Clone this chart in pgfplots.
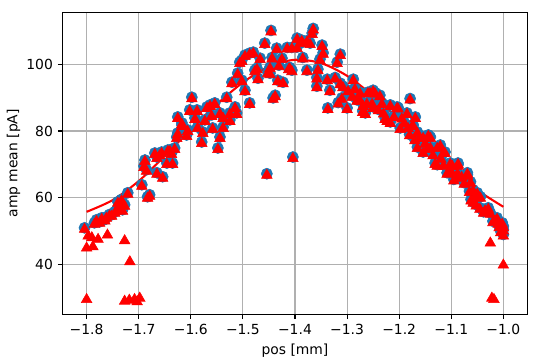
\documentclass[border=0pt]{standalone}
\usepackage{fontspec}
\setmainfont{DejaVu Sans}
\usepackage{pgfplots}
\pgfplotsset{compat=1.18}
\definecolor{tabblue}{HTML}{1F77B4}
\definecolor{gridgray}{HTML}{B0B0B0}
\pgfplotstableread{
x y
-1.804 51.0
-1.785 52.5
-1.781 53.4
-1.775 52.8
-1.771 54.0
-1.765 53.5
-1.762 54.3
-1.756 55.0
-1.752 54.9
-1.746 55.8
-1.742 56.5
-1.740 58.8
-1.737 57.0
-1.733 59.5
-1.731 56.4
-1.727 57.9
-1.721 61.5
-1.694 63.9
-1.690 69.5
-1.688 71.3
-1.685 68.4
-1.683 60.3
-1.679 60.9
-1.669 73.4
-1.665 67.5
-1.665 72.2
-1.660 73.0
-1.656 73.7
-1.654 66.3
-1.646 70.4
-1.644 74.3
-1.640 74.3
-1.637 73.4
-1.635 70.4
-1.631 74.9
-1.627 78.2
-1.625 79.4
-1.625 84.2
-1.617 82.4
-1.617 81.8
-1.608 78.8
-1.606 80.3
-1.602 86.3
-1.598 90.1
-1.592 83.9
-1.588 86.3
-1.587 81.2
-1.579 76.7
-1.577 79.7
-1.573 83.3
-1.569 87.2
-1.563 87.8
-1.560 84.8
-1.558 80.9
-1.554 88.4
-1.548 74.9
-1.544 78.2
-1.544 85.4
-1.538 81.2
-1.538 84.2
-1.531 90.1
-1.525 85.4
-1.525 83.3
-1.521 94.6
-1.515 87.2
-1.512 85.4
-1.510 97.3
-1.506 100.6
-1.502 95.2
-1.502 101.2
-1.496 102.7
-1.496 92.2
-1.487 88.4
-1.487 103.3
-1.480 103.6
-1.477 98.2
-1.473 98.8
-1.471 95.8
-1.467 101.8
-1.458 106.3
-1.454 67.2
-1.452 97.6
-1.448 97.3
-1.448 99.1
-1.446 110.1
-1.444 102.0
-1.442 89.9
-1.438 90.7
-1.435 104.8
-1.433 95.2
-1.431 99.7
-1.425 101.8
-1.423 94.6
-1.415 105.0
-1.412 98.8
-1.410 99.0
-1.406 105.0
-1.406 98.2
-1.404 72.2
-1.396 107.8
-1.396 105.1
-1.387 107.2
-1.385 102.0
-1.385 106.6
-1.377 98.2
-1.377 107.0
-1.371 106.3
-1.367 109.3
-1.365 110.7
-1.358 96.0
-1.358 93.4
-1.356 98.5
-1.352 101.5
-1.348 105.7
-1.346 103.4
-1.338 95.5
-1.337 86.9
-1.333 92.2
-1.323 96.0
-1.319 100.6
-1.317 88.5
-1.313 103.0
-1.313 94.3
-1.310 89.9
-1.308 93.4
-1.300 86.9
-1.298 92.2
-1.290 90.5
-1.288 95.5
-1.285 92.8
-1.281 89.3
-1.275 91.5
-1.275 89.3
-1.270 86.0
-1.269 87.8
-1.265 85.4
-1.262 88.4
-1.260 91.6
-1.256 91.6
-1.252 88.4
-1.250 87.2
-1.250 92.2
-1.246 91.5
-1.240 86.5
-1.237 90.7
-1.233 88.4
-1.230 85.5
-1.227 83.9
-1.223 83.3
-1.217 87.8
-1.217 82.7
-1.210 84.5
-1.204 87.2
-1.202 87.0
-1.198 80.9
-1.195 84.0
-1.190 82.5
-1.185 85.4
-1.183 81.2
-1.180 79.0
-1.179 89.7
-1.175 81.8
-1.173 81.8
-1.170 77.5
-1.169 84.2
-1.165 79.7
-1.165 75.2
-1.160 78.2
-1.154 78.2
-1.154 73.7
-1.150 76.5
-1.146 74.9
-1.144 78.8
-1.140 78.2
-1.140 75.2
-1.135 73.0
-1.131 70.4
-1.127 75.2
-1.127 69.9
-1.121 75.8
-1.120 72.0
-1.115 73.7
-1.115 69.9
-1.112 73.7
-1.108 67.5
-1.106 67.8
-1.102 70.4
-1.100 68.0
-1.098 69.9
-1.095 65.5
-1.088 67.5
-1.088 66.3
-1.087 70.4
-1.087 69.9
-1.080 66.5
-1.075 64.5
-1.069 66.9
-1.069 67.5
-1.065 62.0
-1.063 64.8
-1.062 59.5
-1.058 62.4
-1.058 58.8
-1.055 60.5
-1.052 58.0
-1.050 61.5
-1.045 57.0
-1.044 60.3
-1.038 55.8
-1.035 56.5
-1.029 57.0
-1.025 55.5
-1.020 53.0
-1.015 53.4
-1.012 54.0
-1.010 52.5
-1.008 51.5
-1.005 50.0
-1.002 52.5
-1.000 50.5
-1.000 49.0
-1.000 51.5
}\filtered
\pgfplotstableread{
x y
-1.800 30.0
-1.800 45.4
-1.788 45.8
-1.797 49.0
-1.790 48.5
-1.778 48.0
-1.760 49.3
-1.727 47.6
-1.717 41.3
-1.727 29.5
-1.718 29.8
-1.708 30.0
-1.703 29.3
-1.698 30.4
-1.025 46.9
-1.000 40.3
-1.022 30.4
-1.018 30.0
}\outliers
\begin{document}
\begin{tikzpicture}
\begin{axis}[
  scale only axis,
  width=334.5pt, height=217.4pt,
  xmin=-1.846, xmax=-0.954,
  ymin=25.1, ymax=115.5,
  xtick={-1.8,-1.7,-1.6,-1.5,-1.4,-1.3,-1.2,-1.1,-1.0},
  xticklabels={−1.8,−1.7,−1.6,−1.5,−1.4,−1.3,−1.2,−1.1,−1.0},
  ytick={40,60,80,100},
  yticklabels={40,60,80,100},
  tick align=outside,
  xtick pos=bottom, ytick pos=left,
  major tick length=3.5pt,
  every tick/.style={black, line width=0.8pt},
  axis line style={black, line width=0.8pt},
  grid=major,
  major grid style={gridgray, line width=0.8pt},
  xlabel={pos [mm]},
  ylabel={amp mean [pA]},
  ylabel style={yshift=-2.5pt},
  tick label style={font=\fontsize{10}{12}\selectfont},
  label style={font=\fontsize{10}{12}\selectfont},
]
% fit line
\addplot[red, line width=1.5pt, smooth] coordinates {
(-1.80,55.8) (-1.75,59.3) (-1.70,65.0) (-1.65,72.5) (-1.60,80.5) (-1.55,88.0)
(-1.50,94.5) (-1.45,99.3) (-1.40,101.3) (-1.35,100.3) (-1.30,96.5) (-1.25,90.5)
(-1.20,83.5) (-1.15,76.0) (-1.10,68.8) (-1.05,62.3) (-1.00,57.3)
};
% filtered data (blue circles)
\addplot[only marks, mark=*, mark size=4pt, mark options={draw=tabblue, fill=tabblue}] table {\filtered};
% all data (red triangles)
\addplot[only marks, mark=triangle*, mark size=4.4pt, mark options={draw=red, fill=red, yshift=-1.1pt}] table {\filtered};
\addplot[only marks, mark=triangle*, mark size=4.4pt, mark options={draw=red, fill=red, yshift=-1.1pt}] table {\outliers};
\end{axis}
\pgfresetboundingbox
\path ([xshift=-45.1pt,yshift=-35.1pt]current axis.south west) rectangle ([xshift=14.9pt,yshift=8.9pt]current axis.north east);
\end{tikzpicture}
\end{document}
